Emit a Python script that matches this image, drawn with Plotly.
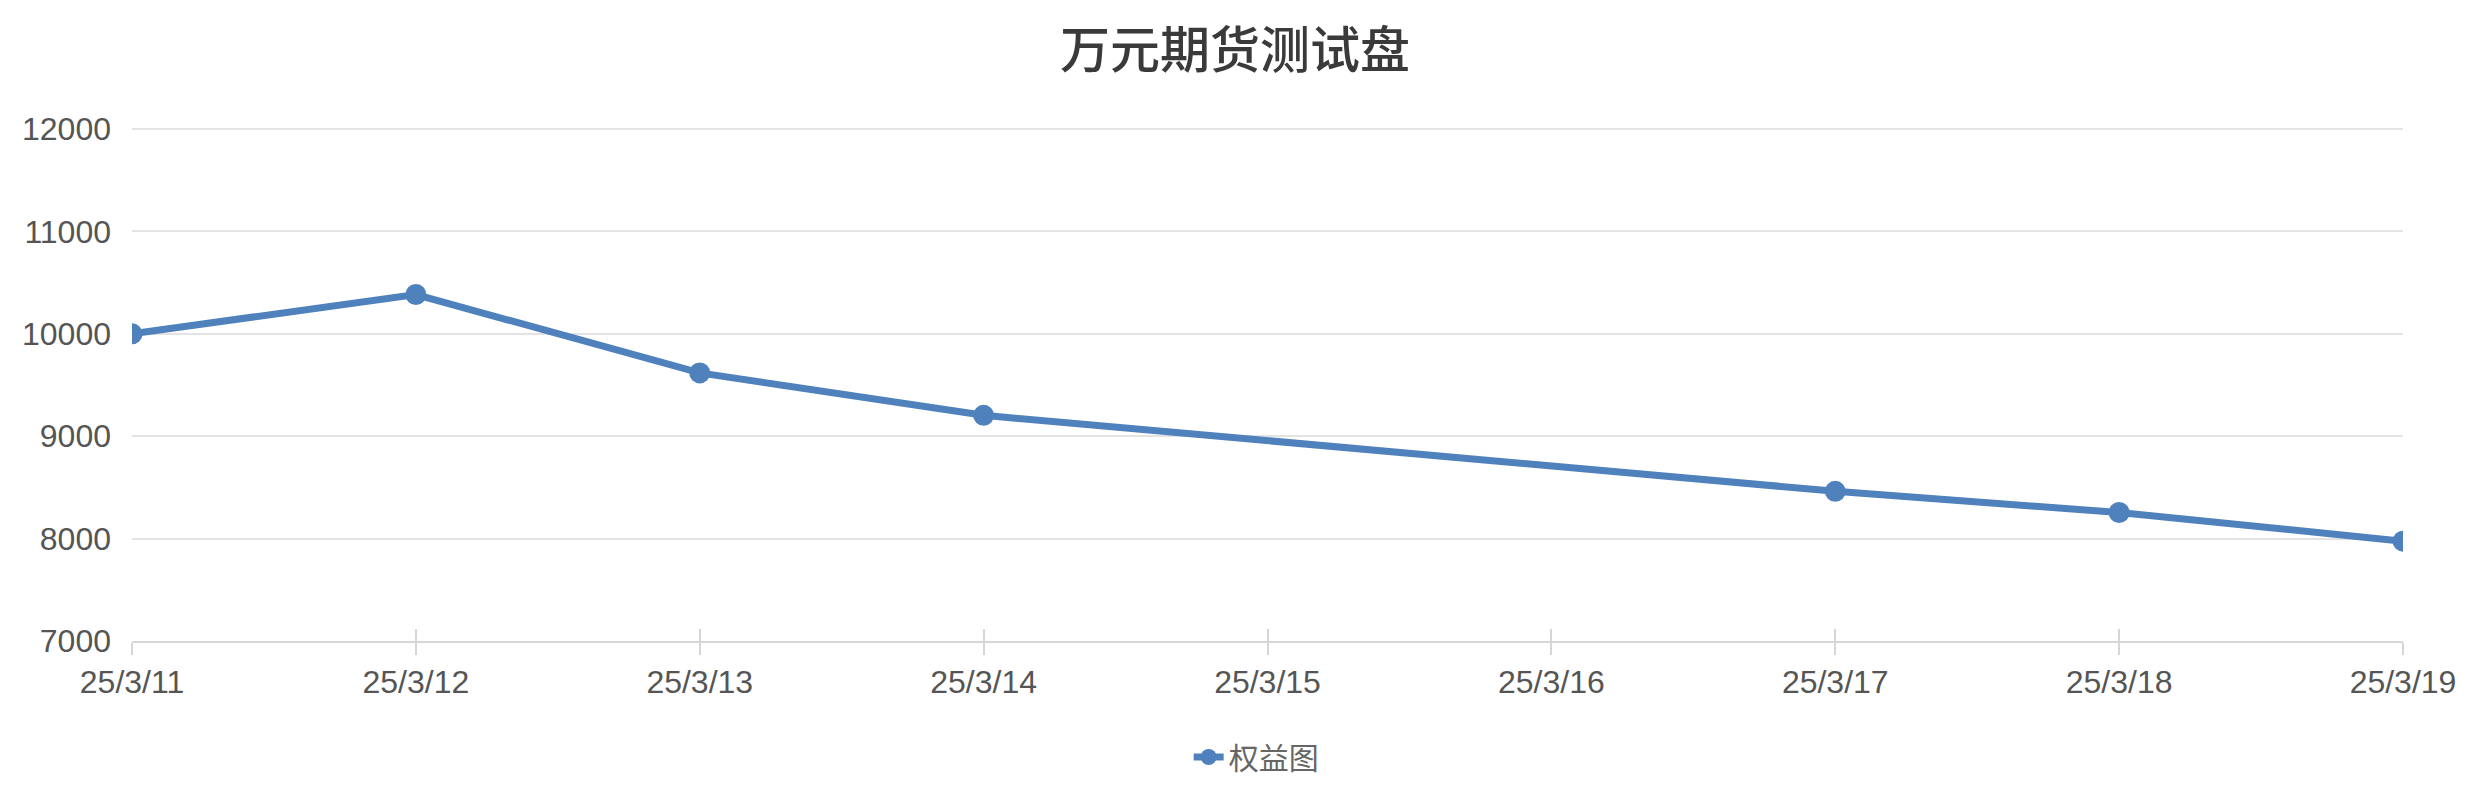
import plotly.graph_objects as go

# chart data
dates = ["25/3/11", "25/3/12", "25/3/13", "25/3/14", "25/3/15",
         "25/3/16", "25/3/17", "25/3/18", "25/3/19"]
equity = [10000, 10384, 9618, 9204, None, None, 8462, 8255, 7975]
y_ticks = [7000, 8000, 9000, 10000, 11000, 12000]

title_text = "万元期货测试盘"
series_name = "权益图"

line_color = "#4F81BD"
grid_color = "#E3E3E3"
axis_color = "#D6D6D6"
label_color = "#555555"


def main():
    fig = go.Figure()

    fig.add_trace(go.Scatter(
        x=dates, y=equity, name=series_name,
        mode="lines+markers", connectgaps=True,
        line=dict(color=line_color, width=7),
        marker=dict(color=line_color, size=21),
    ))

    fig.update_layout(
        width=2470, height=802,
        paper_bgcolor="white", plot_bgcolor="white",
        margin=dict(l=132, r=67, t=127, b=161, autoexpand=False),
        title=dict(
            text=title_text, x=0.5, xanchor="center",
            y=1 - 50 / 802, yanchor="middle",
            font=dict(family="Noto Sans CJK SC", size=50, weight=500, color="#3A3A3A"),
        ),
        showlegend=True,
        legend=dict(
            orientation="h", x=0.495, xanchor="center",
            y=-(757 - 641) / (802 - 127 - 161), yanchor="middle",
            font=dict(family="Noto Sans CJK SC", size=30, color="#666666"),
        ),
        font=dict(family="Liberation Sans", size=32, color=label_color),
        xaxis=dict(
            type="category", categoryorder="array", categoryarray=dates,
            range=[0, len(dates) - 1], automargin=False,
            showgrid=False, zeroline=False,
            showline=True, linecolor=axis_color, linewidth=2,
            ticks="outside", ticklen=12, tickwidth=2, tickcolor=axis_color,
            ticklabelstandoff=0,
            tickfont=dict(family="Liberation Sans", size=32, color=label_color),
        ),
        # duplicate axis so ticks cross the axis line
        xaxis2=dict(
            type="category", categoryorder="array", categoryarray=dates,
            range=[0, len(dates) - 1], overlaying="x", side="bottom",
            showgrid=False, zeroline=False, showline=False, automargin=False,
            ticks="inside", ticklen=12, tickwidth=2, tickcolor=axis_color,
            showticklabels=False, tickvals=dates,
        ),
        yaxis=dict(
            # a little headroom so the 12000 grid line is drawn
            range=[7000, 12020], tickvals=y_ticks, tickformat="d",
            automargin=False,
            showgrid=True, gridcolor=grid_color, gridwidth=2,
            zeroline=False, showline=False, ticks="",
            ticklabelstandoff=20,
            tickfont=dict(family="Liberation Sans", size=32, color=label_color),
        ),
    )

    # invisible trace to activate the second x axis
    fig.add_trace(go.Scatter(x=dates, y=[None] * len(dates), xaxis="x2",
                             showlegend=False, hoverinfo="skip"))

    # no body margin, so the figure sits at the window's top left corner
    fig.write_html("out.html", config={"displayModeBar": False},
                   post_script="document.body.style.margin='0';")


if __name__ == "__main__": main()
